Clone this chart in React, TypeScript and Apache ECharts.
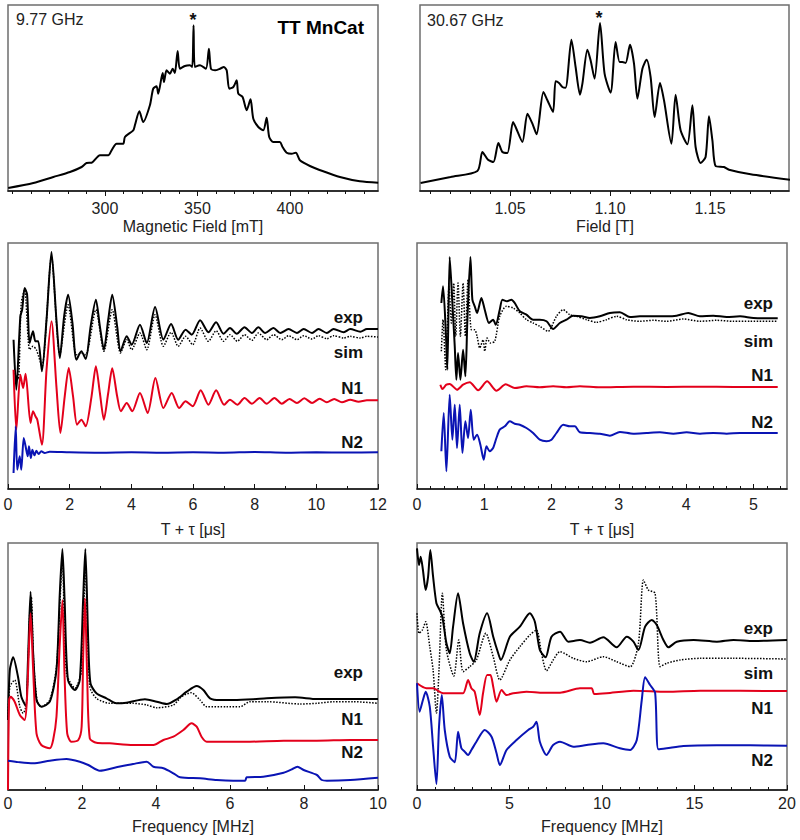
import React, { useEffect, useRef } from "react";
import * as echarts from "echarts";

// ---------- DATA (x in axis units, y = intensity in arbitrary units) ----------
const eprX: [number, number][] = [
  [247.7, 3.0], [261.3, 8.0], [272.1, 14.0], [281.1, 19.0], [287.4, 24.0], [290.1, 28.0], [292.8, 28.3],
  [297.3, 35.7], [301.8, 35.7], [303.6, 40.7], [306.3, 47.3], [309.9, 47.3], [310.8, 54.0], [315.3, 60.7],
  [316.2, 65.7], [318.6, 79.7], [320.7, 69.0], [324.3, 85.7], [326.1, 102.3], [327.9, 104.7], [328.8, 97.3],
  [331.2, 118.0], [331.9, 109.0], [333.3, 120.7], [335.1, 117.3], [336.6, 122.3], [337.8, 118.0], [339.3, 140.0],
  [340.5, 122.3], [343.2, 125.0], [345.9, 125.7], [347.2, 124.0], [347.9, 165.7], [348.6, 124.0], [351.4, 125.7],
  [354.6, 122.3], [356.2, 142.3], [357.3, 122.3], [359.5, 120.7], [362.2, 122.3], [364.3, 124.0], [365.8, 120.7],
  [367.2, 102.3], [369.4, 104.0], [371.2, 110.7], [372.1, 97.3], [374.4, 94.0], [376.6, 80.7], [378.7, 91.7],
  [380.2, 72.3], [382.9, 64.0], [385.6, 60.7], [387.4, 73.3], [388.8, 54.0], [391.0, 49.0], [394.6, 49.0],
  [396.0, 44.0], [398.2, 38.3], [400.9, 37.3], [403.2, 38.3], [405.4, 30.7], [410.8, 25.0], [418.0, 19.7],
  [427.0, 14.0], [437.8, 9.7], [447.7, 8.3],
];

const eprQ: [number, number][] = [
  [1.0053, 8.0], [1.0203, 14.0], [1.0337, 20.0], [1.0362, 39.0], [1.039, 31.3], [1.0417, 29.0], [1.0442, 48.0],
  [1.0462, 39.0], [1.0487, 38.0], [1.0515, 69.0], [1.0528, 64.0], [1.0562, 49.0], [1.0587, 77.3], [1.0612, 67.3],
  [1.0633, 56.7], [1.0667, 99.0], [1.0687, 90.7], [1.0715, 79.0], [1.0728, 109.7], [1.0745, 108.0], [1.0762, 104.0],
  [1.0778, 103.3], [1.0807, 151.3], [1.0828, 124.0], [1.085, 96.3], [1.0862, 107.3], [1.0887, 141.3], [1.0903, 130.7],
  [1.0923, 112.3], [1.095, 168.0], [1.0973, 117.3], [1.1003, 98.3], [1.1028, 149.0], [1.1048, 129.0], [1.1062, 129.0],
  [1.1078, 128.0], [1.11, 146.3], [1.112, 127.3], [1.1137, 92.3], [1.1162, 122.3], [1.1183, 131.3], [1.1203, 114.0],
  [1.1223, 74.0], [1.125, 108.0], [1.127, 90.7], [1.1307, 47.3], [1.1328, 96.3], [1.1353, 60.7], [1.1387, 46.7],
  [1.1412, 85.7], [1.1428, 44.0], [1.1453, 28.0], [1.1478, 34.0], [1.1495, 74.7], [1.1512, 50.7], [1.1528, 25.0],
  [1.157, 24.0], [1.1595, 21.3], [1.1703, 16.7], [1.19, 11.3],
];

const eseemXExp: [number, number][] = [
  [0.18, 149.3], [0.27, 99.3], [0.4, 172.7], [0.46, 179.3], [0.54, 201.0], [0.62, 194.3], [0.7, 146.0], [0.81, 157.7],
  [0.89, 147.7], [0.98, 147.7], [1.1, 117.7], [1.25, 169.3], [1.41, 237.0], [1.57, 169.3], [1.68, 131.0], [1.82, 172.7],
  [1.95, 194.3], [2.09, 166.0], [2.22, 129.3], [2.38, 137.7], [2.52, 130.0], [2.68, 162.7], [2.85, 189.3], [2.98, 162.7],
  [3.11, 139.3], [3.25, 169.3], [3.38, 194.3], [3.54, 162.7], [3.65, 137.7], [3.85, 152.7], [4.01, 144.3], [4.28, 164.3],
  [4.5, 146.0], [4.77, 182.0], [5.04, 149.3], [5.29, 165.0], [5.52, 149.3], [5.76, 159.3], [5.96, 154.3], [6.23, 168.7],
  [6.5, 156.7], [6.75, 166.7], [6.99, 155.3], [7.2, 161.0], [7.42, 155.3], [7.67, 161.7], [7.91, 156.0], [8.12, 161.7],
  [8.34, 156.0], [8.61, 161.0], [8.83, 156.0], [9.1, 160.0], [9.37, 156.0], [9.59, 160.0], [9.86, 156.0], [10.07, 160.0],
  [10.34, 156.0], [10.56, 160.0], [10.89, 156.7], [11.1, 160.0], [11.43, 157.3], [11.64, 160.0], [12.0, 160.0],
];
const eseemXSim: [number, number][] = [
  [0.22, 116.0], [0.33, 109.3], [0.43, 186.0], [0.54, 199.3], [0.7, 139.3], [0.81, 142.7], [0.92, 139.3], [1.1, 122.7],
  [1.41, 232.0], [1.68, 134.3], [1.95, 184.3], [2.22, 134.3], [2.38, 136.0], [2.52, 134.3], [2.85, 179.3], [3.11, 137.7],
  [3.38, 179.3], [3.65, 136.0], [3.85, 149.3], [4.01, 139.3], [4.28, 156.0], [4.5, 139.3], [4.77, 174.3], [5.04, 142.7],
  [5.29, 156.7], [5.52, 142.7], [5.76, 152.7], [5.99, 144.3], [6.23, 161.0], [6.5, 147.7], [6.75, 158.3], [6.99, 147.7],
  [7.2, 154.3], [7.44, 147.7], [7.67, 154.3], [7.91, 148.7], [8.12, 156.0], [8.39, 149.3], [8.61, 154.3], [8.88, 149.3],
  [9.1, 153.3], [9.37, 149.3], [9.59, 153.3], [9.86, 150.0], [10.07, 153.3], [10.34, 150.3], [10.56, 153.3], [10.89, 151.0],
  [11.1, 152.7], [11.43, 151.0], [11.64, 152.7], [12.0, 152.0],
];
const eseemXN1: [number, number][] = [
  [0.18, 119.3], [0.27, 59.3], [0.4, 114.3], [0.49, 101.0], [0.57, 115.3], [0.73, 66.0], [0.81, 77.7], [0.89, 72.7],
  [0.95, 69.3], [1.1, 44.3], [1.25, 119.3], [1.41, 167.7], [1.57, 102.7], [1.7, 56.0], [1.84, 92.7], [1.97, 121.0],
  [2.11, 92.7], [2.24, 64.3], [2.38, 69.3], [2.52, 62.7], [2.71, 92.7], [2.85, 122.7], [2.98, 96.0], [3.11, 69.3],
  [3.25, 96.0], [3.38, 120.7], [3.54, 92.7], [3.66, 77.7], [3.85, 86.0], [4.03, 77.7], [4.28, 96.0], [4.53, 76.0],
  [4.78, 111.0], [5.04, 81.0], [5.31, 96.0], [5.55, 81.0], [5.76, 87.7], [5.99, 82.7], [6.25, 98.7], [6.5, 84.3],
  [6.75, 98.7], [7.01, 84.3], [7.2, 89.3], [7.44, 84.3], [7.67, 91.0], [7.91, 85.3], [8.16, 91.0], [8.39, 85.3],
  [8.64, 91.0], [8.88, 85.3], [9.13, 90.0], [9.37, 86.0], [9.61, 90.7], [9.86, 86.0], [10.11, 90.3], [10.34, 86.7],
  [10.58, 90.0], [10.83, 86.7], [11.1, 89.3], [11.37, 87.3], [11.64, 88.7], [12.0, 88.7],
];
const eseemXN2: [number, number][] = [
  [0.18, 16.0], [0.25, 62.7], [0.3, 19.3], [0.38, 32.7], [0.43, 19.3], [0.51, 51.0], [0.57, 42.7], [0.64, 32.7],
  [0.68, 42.7], [0.74, 31.0], [0.79, 39.3], [0.86, 33.7], [0.92, 38.3], [0.99, 35.0], [1.08, 37.7], [1.19, 36.0],
  [1.35, 37.3], [2.0, 36.7], [3.0, 36.3], [4.0, 36.7], [5.0, 36.3], [6.0, 36.7], [7.0, 36.3], [8.0, 37.0],
  [9.0, 36.3], [10.0, 36.7], [11.0, 36.5], [12.0, 36.7],
];

const eseemQExp: [number, number][] = [
  [0.362, 186.0], [0.387, 202.7], [0.427, 159.3], [0.451, 119.3], [0.486, 232.0], [0.526, 186.0], [0.561, 142.7],
  [0.585, 109.3], [0.61, 136.0], [0.645, 109.3], [0.685, 139.3], [0.719, 112.7], [0.749, 169.3], [0.794, 232.0],
  [0.823, 189.3], [0.858, 182.7], [0.893, 176.0], [0.957, 191.0], [1.007, 179.3], [1.071, 166.0], [1.131, 169.3],
  [1.171, 164.3], [1.23, 179.3], [1.27, 189.3], [1.339, 187.7], [1.404, 189.3], [1.453, 186.0], [1.528, 177.7],
  [1.627, 174.3], [1.726, 169.3], [1.825, 169.3], [1.925, 167.7], [2.024, 160.0], [2.123, 166.0], [2.222, 169.3],
  [2.321, 173.3], [2.445, 172.7], [2.569, 171.0], [2.718, 172.7], [2.867, 176.0], [3.016, 176.7], [3.165, 172.0],
  [3.313, 172.7], [3.512, 172.7], [3.71, 172.7], [3.859, 173.3], [4.033, 176.0], [4.206, 172.7], [4.405, 173.3],
  [4.603, 172.0], [4.802, 172.7], [5.0, 171.0], [5.362, 170.7],
];
const eseemQSim: [number, number][] = [
  [0.362, 137.7], [0.387, 169.3], [0.427, 119.3], [0.476, 202.7], [0.511, 166.0], [0.546, 206.0], [0.575, 152.7],
  [0.61, 206.0], [0.645, 152.7], [0.685, 206.0], [0.719, 152.7], [0.759, 209.3], [0.809, 159.3], [0.858, 159.3],
  [0.893, 152.7], [0.933, 141.0], [0.982, 149.3], [1.007, 137.7], [1.042, 151.0], [1.091, 146.0], [1.156, 147.7],
  [1.23, 172.7], [1.329, 182.7], [1.429, 181.0], [1.528, 176.0], [1.627, 169.3], [1.726, 166.0], [1.825, 162.7],
  [1.949, 157.7], [2.073, 172.7], [2.173, 179.3], [2.272, 174.3], [2.371, 172.7], [2.52, 169.3], [2.669, 166.7],
  [2.817, 169.3], [2.966, 172.7], [3.115, 169.3], [3.313, 167.7], [3.512, 168.7], [3.71, 167.7], [3.958, 170.0],
  [4.206, 167.7], [4.454, 168.7], [4.702, 167.7], [4.95, 167.7], [5.362, 167.7],
];
const eseemQN1: [number, number][] = [
  [0.347, 104.3], [0.377, 100.0], [0.437, 104.3], [0.486, 105.0], [0.595, 99.3], [0.685, 104.3], [0.784, 106.7],
  [0.908, 98.7], [1.042, 107.7], [1.181, 98.3], [1.319, 104.7], [1.453, 101.0], [1.627, 102.7], [1.825, 101.7],
  [2.024, 102.7], [2.222, 101.7], [2.421, 102.7], [2.718, 101.7], [3.214, 102.3], [3.71, 102.0], [4.206, 102.3],
  [4.702, 102.0], [5.362, 102.0],
];
const eseemQN2: [number, number][] = [
  [0.362, 37.7], [0.397, 76.0], [0.437, 17.7], [0.486, 94.3], [0.526, 49.3], [0.561, 84.3], [0.595, 41.0],
  [0.635, 84.3], [0.675, 36.0], [0.719, 67.7], [0.759, 51.0], [0.799, 79.3], [0.843, 49.3], [0.893, 54.3],
  [0.942, 44.3], [0.992, 29.3], [1.032, 42.7], [1.081, 37.7], [1.131, 41.0], [1.181, 51.0], [1.23, 59.3],
  [1.305, 62.7], [1.379, 67.7], [1.453, 65.3], [1.528, 64.3], [1.627, 61.0], [1.726, 56.0], [1.825, 49.3],
  [1.925, 47.7], [1.999, 49.3], [2.073, 56.0], [2.173, 64.3], [2.272, 62.7], [2.346, 62.7], [2.421, 56.7],
  [2.569, 56.0], [2.718, 55.3], [2.867, 53.3], [3.016, 57.0], [3.214, 55.3], [3.413, 56.0], [3.611, 56.7],
  [3.81, 55.3], [4.008, 56.7], [4.206, 55.3], [4.405, 56.0], [4.603, 55.3], [4.802, 56.0], [5.0, 56.0], [5.362, 56.0],
];

const ftXExp: [number, number][] = [
  [0.0, 70.0], [0.05, 120.0], [0.14, 132.7], [0.27, 113.3], [0.36, 93.3], [0.48, 84.0], [0.54, 130.0], [0.61, 198.3],
  [0.68, 136.7], [0.77, 90.0], [0.9, 83.3], [1.13, 88.3], [1.31, 120.0], [1.4, 196.7], [1.47, 241.0], [1.53, 190.0],
  [1.62, 110.0], [1.81, 100.0], [1.94, 110.0], [2.03, 190.0], [2.09, 241.0], [2.17, 146.7], [2.23, 106.7], [2.39, 96.7],
  [2.66, 91.7], [2.93, 86.7], [3.2, 87.3], [3.7, 90.7], [4.02, 88.3], [4.29, 86.0], [4.56, 90.7], [4.83, 98.3],
  [5.1, 104.0], [5.28, 100.0], [5.46, 91.7], [5.73, 90.0], [6.09, 90.0], [6.63, 90.7], [6.99, 91.7], [7.76, 92.7],
  [8.35, 91.0], [8.8, 91.0], [9.25, 91.0], [10.0, 91.0],
];
const ftXSim: [number, number][] = [
  [0.0, 70.0], [0.05, 103.3], [0.18, 110.0], [0.32, 83.3], [0.41, 76.7], [0.5, 86.7], [0.59, 180.0], [0.63, 193.3],
  [0.69, 130.0], [0.79, 88.3], [0.9, 83.3], [1.13, 90.0], [1.31, 123.3], [1.47, 226.7], [1.58, 116.7], [1.81, 101.7],
  [1.99, 120.0], [2.09, 223.3], [2.21, 103.3], [2.39, 91.7], [2.75, 86.7], [3.38, 86.7], [3.75, 85.0], [4.02, 82.3],
  [4.47, 85.0], [4.69, 93.3], [4.95, 97.3], [5.19, 90.0], [5.37, 83.3], [5.91, 83.3], [6.27, 83.3], [6.54, 88.3],
  [6.99, 88.3], [7.9, 86.0], [8.35, 86.7], [8.8, 88.3], [9.34, 88.3], [10.0, 86.7],
];
const ftXN1: [number, number][] = [
  [0.0, 0.0], [0.03, 90.0], [0.07, 93.3], [0.18, 88.3], [0.32, 75.0], [0.45, 70.0], [0.51, 90.0], [0.57, 146.7],
  [0.61, 176.7], [0.68, 120.0], [0.77, 56.7], [0.9, 45.0], [1.13, 41.7], [1.22, 50.0], [1.31, 73.3], [1.4, 146.7],
  [1.47, 190.0], [1.53, 113.3], [1.6, 56.7], [1.71, 48.3], [1.9, 50.0], [1.99, 63.3], [2.03, 130.0], [2.08, 191.7],
  [2.14, 113.3], [2.21, 51.7], [2.39, 47.3], [2.75, 46.7], [3.38, 45.0], [3.93, 45.0], [4.2, 50.0], [4.47, 53.3],
  [4.74, 60.0], [4.96, 66.7], [5.1, 63.3], [5.23, 53.3], [5.37, 48.3], [5.64, 48.3], [6.54, 48.3], [7.45, 49.3],
  [8.35, 49.3], [9.25, 50.0], [10.0, 50.0],
];
const ftXN2: [number, number][] = [
  [0.0, 29.3], [0.32, 27.7], [0.68, 26.7], [1.13, 29.3], [1.58, 31.0], [1.94, 28.3], [2.17, 25.0], [2.48, 19.3],
  [2.93, 22.7], [3.38, 26.0], [3.75, 28.3], [3.93, 23.3], [4.2, 21.7], [4.47, 16.7], [4.65, 12.7], [5.19, 11.7],
  [5.64, 10.0], [6.09, 9.3], [6.41, 9.3], [6.45, 12.7], [6.9, 13.3], [7.45, 17.3], [7.67, 20.7], [7.82, 23.3],
  [7.99, 20.0], [8.35, 15.0], [8.48, 10.0], [8.62, 9.3], [9.25, 10.0], [10.0, 12.3],
];

const ftQExp: [number, number][] = [
  [0.0, 241.7], [0.11, 225.0], [0.2, 233.3], [0.32, 220.0], [0.47, 200.0], [0.6, 213.3], [0.72, 240.0], [0.87, 213.3],
  [1.05, 186.7], [1.23, 180.0], [1.37, 173.3], [1.59, 146.7], [1.77, 136.7], [1.95, 163.3], [2.22, 196.7], [2.49, 166.7],
  [2.85, 136.7], [3.07, 128.3], [3.39, 156.7], [3.79, 176.7], [4.12, 153.3], [4.39, 136.7], [4.53, 130.0], [5.02, 153.3],
  [5.56, 163.3], [6.1, 176.7], [6.37, 168.3], [6.64, 140.0], [6.95, 132.7], [7.27, 153.3], [7.73, 158.3], [8.18, 148.3],
  [8.81, 150.0], [9.35, 147.3], [10.07, 152.7], [10.79, 142.7], [11.34, 153.3], [11.7, 148.3], [11.97, 140.0],
  [12.33, 163.3], [12.69, 170.0], [12.96, 165.0], [13.32, 150.0], [13.59, 142.7], [14.04, 148.3], [14.95, 150.0],
  [16.21, 148.3], [17.11, 150.0], [18.19, 149.0], [20.0, 150.0],
];
const ftQSim: [number, number][] = [
  [0.0, 176.7], [0.11, 156.7], [0.29, 160.0], [0.47, 168.3], [0.69, 143.3], [0.87, 120.0], [1.05, 76.7], [1.19, 120.0],
  [1.37, 196.7], [1.59, 140.0], [1.99, 114.0], [2.26, 150.0], [2.49, 118.3], [2.85, 123.3], [3.21, 130.0], [3.72, 156.7],
  [4.12, 133.3], [4.48, 110.0], [5.02, 130.0], [5.56, 143.3], [6.1, 155.0], [6.46, 160.0], [6.73, 136.7], [7.0, 119.3],
  [7.36, 130.0], [7.73, 138.3], [8.45, 131.7], [9.17, 128.3], [10.07, 133.3], [10.79, 128.3], [11.52, 123.3],
  [11.97, 146.7], [12.24, 210.0], [12.51, 200.0], [12.87, 196.7], [13.14, 123.3], [13.5, 126.7], [14.22, 130.0],
  [15.31, 131.7], [17.11, 131.7], [20.0, 131.0],
];
const ftQN1: [number, number][] = [
  [0.0, 106.7], [0.51, 101.7], [0.87, 101.7], [1.41, 96.7], [1.95, 96.7], [2.49, 96.7], [2.76, 110.0], [2.94, 101.7],
  [3.12, 98.3], [3.39, 75.0], [3.57, 96.7], [3.79, 115.0], [3.97, 115.0], [4.12, 103.3], [4.3, 88.3], [4.57, 100.0],
  [4.84, 95.0], [5.2, 96.7], [5.92, 98.3], [6.82, 97.3], [7.73, 97.3], [8.81, 101.7], [9.44, 101.7], [9.58, 96.0],
  [10.25, 96.7], [11.7, 99.3], [13.5, 98.3], [15.31, 99.3], [20.0, 99.0],
];
const ftQN2: [number, number][] = [
  [0.0, 106.7], [0.14, 78.3], [0.32, 90.0], [0.47, 98.3], [0.69, 83.3], [0.87, 43.3], [1.05, 6.0], [1.19, 63.3],
  [1.34, 95.0], [1.5, 60.0], [1.77, 33.3], [2.04, 27.7], [2.22, 58.3], [2.4, 41.7], [2.58, 38.3], [2.76, 35.0],
  [2.94, 40.0], [3.21, 48.3], [3.66, 60.0], [4.03, 53.3], [4.3, 36.7], [4.48, 25.0], [4.84, 40.0], [5.38, 50.0],
  [6.01, 60.0], [6.28, 63.3], [6.46, 68.3], [6.64, 48.3], [7.0, 35.0], [7.36, 45.0], [7.73, 48.3], [8.45, 43.3],
  [9.17, 45.0], [10.07, 46.7], [10.97, 41.7], [11.52, 40.0], [11.88, 50.0], [12.15, 90.0], [12.33, 112.7],
  [12.6, 105.0], [12.87, 97.3], [13.05, 40.7], [13.5, 41.7], [14.4, 44.0], [16.21, 44.7], [18.01, 44.7], [20.0, 44.3],
];

// tick values
const p1Major = [300, 350, 400];
const p1Minor = [250, 260, 270, 280, 290, 310, 320, 330, 340, 360, 370, 380, 390, 410, 420, 430, 440];
const p2Major = [1.05, 1.1, 1.15];
const p2Minor = [1.01, 1.02, 1.03, 1.04, 1.06, 1.07, 1.08, 1.09, 1.11, 1.12, 1.13, 1.14, 1.16, 1.17, 1.18];
const p3Major = [0, 2, 4, 6, 8, 10, 12];
const p3Minor = [1, 3, 5, 7, 9, 11];
const p4Major = [0, 1, 2, 3, 4, 5];
const p4Minor = [0.2, 0.4, 0.6, 0.8, 1.2, 1.4, 1.6, 1.8, 2.2, 2.4, 2.6, 2.8, 3.2, 3.4, 3.6, 3.8, 4.2, 4.4, 4.6, 4.8, 5.2, 5.4];
const p5Major = [0, 2, 4, 6, 8, 10];
const p5Minor = [1, 3, 5, 7, 9];
const p6Major = [0, 5, 10, 15, 20];
const p6Minor = [1, 2, 3, 4, 6, 7, 8, 9, 11, 12, 13, 14, 16, 17, 18, 19];

const FONT = "'Liberation Sans', Arial, Helvetica, sans-serif";
const RED = "#e3001b";
const BLUE = "#0a14b4";

export default function App() {
  const ref = useRef<HTMLDivElement>(null);
  useEffect(() => {
    if (!ref.current) return;
    const chart = echarts.init(ref.current, undefined, { renderer: "svg" });

    const panels = [
      { grid: { left: 8, top: 5, width: 370, height: 186 }, min: 247.6, max: 447.6, ymax: 186, major: p1Major, minor: p1Minor, inside: false, margin: 9, fmt: (v: number) => String(v) },
      { grid: { left: 420, top: 5, width: 369, height: 186 }, min: 1.005, max: 1.1895, ymax: 186, major: p2Major, minor: p2Minor, inside: false, margin: 9, fmt: (v: number) => v.toFixed(2) },
      { grid: { left: 8, top: 243, width: 370, height: 246 }, min: 0, max: 12, ymax: 246, major: p3Major, minor: p3Minor, inside: true, margin: 7, fmt: (v: number) => String(v) },
      { grid: { left: 417, top: 243, width: 370, height: 246 }, min: 0, max: 5.5, ymax: 246, major: p4Major, minor: p4Minor, inside: true, margin: 7, fmt: (v: number) => String(v) },
      { grid: { left: 8, top: 543, width: 370, height: 247 }, min: 0, max: 10, ymax: 247, major: p5Major, minor: p5Minor, inside: true, margin: 5, fmt: (v: number) => String(v) },
      { grid: { left: 417, top: 543, width: 370, height: 247 }, min: 0, max: 20, ymax: 247, major: p6Major, minor: p6Minor, inside: true, margin: 5, fmt: (v: number) => String(v) },
    ];

    const grids = panels.map((p) => ({
      ...p.grid,
      show: true,
      borderColor: "#6e6e6e",
      borderWidth: 1.5,
      containLabel: false,
    }));

    const xAxes: any[] = [];
    panels.forEach((p, i) => {
      xAxes.push({
        type: "value",
        gridIndex: i,
        min: p.min,
        max: p.max,
        position: "bottom",
        axisLine: { show: true, onZero: false, lineStyle: { color: "#111", width: 1.5 } },
        axisTick: { show: true, inside: p.inside, length: 5, customValues: p.major, lineStyle: { color: "#111", width: 1 } },
        axisLabel: { show: true, customValues: p.major, formatter: p.fmt, margin: p.margin, fontSize: 16, color: "#222", fontFamily: FONT },
        splitLine: { show: false },
      });
    });
    panels.forEach((p, i) => {
      xAxes.push({
        type: "value",
        gridIndex: i,
        min: p.min,
        max: p.max,
        position: "bottom",
        axisLine: { show: false, onZero: false },
        axisTick: { show: true, inside: p.inside, length: 3, customValues: p.minor, lineStyle: { color: "#111", width: 1 } },
        axisLabel: { show: false },
        splitLine: { show: false },
      });
    });

    const yAxes = panels.map((p, i) => ({
      type: "value",
      gridIndex: i,
      min: 0,
      max: p.ymax,
      show: false,
    }));

    const line = (idx: number, data: [number, number][], color: string, type: string = "solid", width = 2, name = "") => ({
      type: "line",
      name,
      xAxisIndex: idx,
      yAxisIndex: idx,
      data,
      showSymbol: false,
      symbol: "none",
      smooth: 0.25,
      lineStyle: { color, width, type },
      silent: true,
    });

    const series = [
      line(0, eprX, "#000", "solid", 2, "X-band EPR"),
      line(1, eprQ, "#000", "solid", 2, "Q-band EPR"),
      line(2, eseemXSim, "#000", "dotted", 1.5, "sim"),
      line(2, eseemXExp, "#000", "solid", 2, "exp"),
      line(2, eseemXN1, RED, "solid", 2, "N1"),
      line(2, eseemXN2, BLUE, "solid", 2, "N2"),
      line(3, eseemQSim, "#000", "dotted", 1.5, "sim"),
      line(3, eseemQExp, "#000", "solid", 2, "exp"),
      line(3, eseemQN1, RED, "solid", 2, "N1"),
      line(3, eseemQN2, BLUE, "solid", 2, "N2"),
      line(4, ftXSim, "#000", "dotted", 1.5, "sim"),
      line(4, ftXExp, "#000", "solid", 2, "exp"),
      line(4, ftXN1, RED, "solid", 2, "N1"),
      line(4, ftXN2, BLUE, "solid", 2, "N2"),
      line(5, ftQSim, "#000", "dotted", 1.5, "sim"),
      line(5, ftQExp, "#000", "solid", 2, "exp"),
      line(5, ftQN1, RED, "solid", 2, "N1"),
      line(5, ftQN2, BLUE, "solid", 2, "N2"),
    ];

    const txt = (text: string, x: number, y: number, opts: any = {}) => ({
      type: "text",
      x,
      y,
      silent: true,
      style: {
        text,
        fill: opts.fill || "#111",
        fontSize: opts.size || 17,
        fontWeight: opts.bold ? "bold" : "normal",
        fontFamily: FONT,
        align: opts.align || "right",
        verticalAlign: "middle",
      },
    });

    const B = { bold: true };
    const graphics = [
      txt("9.77 GHz", 16, 19, { size: 16, align: "left", fill: "#222" }),
      txt("TT MnCat", 364, 27, { size: 19, bold: true, fill: "#000" }),
      txt("*", 193, 20, { size: 18, bold: true, align: "center" }),
      txt("30.67 GHz", 427, 20, { size: 16, align: "left", fill: "#222" }),
      txt("*", 599, 18, { size: 18, bold: true, align: "center" }),

      txt("Magnetic Field [mT]", 193, 226, { size: 16, align: "center", fill: "#222" }),
      txt("Field [T]", 605, 226, { size: 16, align: "center", fill: "#222" }),
      txt("T + τ [μs]", 193, 529, { size: 16, align: "center", fill: "#222" }),
      txt("T + τ [μs]", 602, 529, { size: 16, align: "center", fill: "#222" }),
      txt("Frequency [MHz]", 193, 826, { size: 16, align: "center", fill: "#222" }),
      txt("Frequency [MHz]", 602, 826, { size: 16, align: "center", fill: "#222" }),

      txt("exp", 363, 317, B), txt("sim", 363, 352, B), txt("N1", 363, 388, B), txt("N2", 363, 442, B),
      txt("exp", 773, 303, B), txt("sim", 773, 341, B), txt("N1", 773, 375, B), txt("N2", 773, 422, B),
      txt("exp", 363, 672, B), txt("N1", 363, 719, B), txt("N2", 363, 752, B),
      txt("exp", 773, 628, B), txt("sim", 773, 673, B), txt("N1", 773, 708, B), txt("N2", 773, 760, B),
    ];

    chart.setOption({
      animation: false,
      backgroundColor: "#fff",
      grid: grids,
      xAxis: xAxes,
      yAxis: yAxes,
      series,
      graphic: graphics,
    });

    return () => chart.dispose();
  }, []);

  return <div ref={ref} style={{ position: "absolute", left: 0, top: 0, width: 800, height: 840 }} />;
}
